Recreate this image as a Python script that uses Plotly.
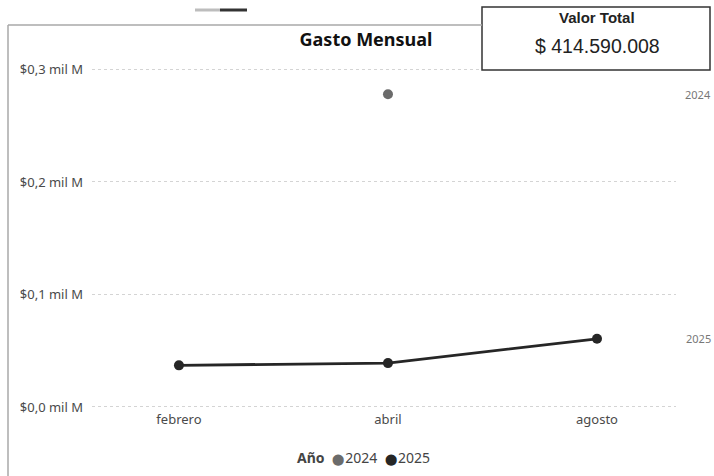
import plotly.graph_objects as go

# Gasto mensual por año (pesos)
meses = ["febrero", "abril", "agosto"]
meses_2024 = ["abril"]
gasto_2024 = [278_000_000]
meses_2025 = ["febrero", "abril", "agosto"]
gasto_2025 = [37_000_000, 39_000_000, 60_590_008]

valor_total = 414_590_008
y_ticks = [0, 100_000_000, 200_000_000, 300_000_000]
y_ticktext = ["$0,0 mil M", "$0,1 mil M", "$0,2 mil M", "$0,3 mil M"]

W, H = 714, 476
L, R, T, B = 92, 676, 60, 410   # plot area in pixels

_C24 = "#6b6b6b"
_C25 = "#262626"
_TICK = "#4a4a4a"
_GRID = "#d4d4d4"
_FRAME = "#a8a8a8"
_FONT = "Noto Sans, Open Sans, sans-serif"


def px(x):
    return (x - L) / (R - L)


def py(y):
    return (B - y) / (B - T)


fig = go.Figure()
fig.add_trace(go.Scatter(
    x=meses_2024, y=gasto_2024, mode="markers", name="2024",
    marker=dict(color=_C24, size=10),
))
fig.add_trace(go.Scatter(
    x=meses_2025, y=gasto_2025, mode="lines+markers", name="2025",
    line=dict(color=_C25, width=2.8),
    marker=dict(color=_C25, size=10),
))

# end-of-series labels at the right edge
for name, val in (("2024", gasto_2024[-1]), ("2025", gasto_2025[-1])):
    fig.add_annotation(x=px(713), xref="paper", xanchor="right", y=val, yref="y",
                       yanchor="middle", text=name, showarrow=False,
                       font=dict(size=11, color="#777777"))

# card "Valor Total"
fig.add_shape(type="rect", xref="paper", yref="paper",
              x0=px(482), x1=px(710), y0=py(7), y1=py(70),
              line=dict(color="#333333", width=1.5), fillcolor="white", layer="above")
fig.add_annotation(x=px(597), y=py(18), xref="paper", yref="paper",
                   xanchor="center", yanchor="middle",
                   text="<b>Valor Total</b>", showarrow=False,
                   font=dict(family="Liberation Sans, Arial", size=15, color="#222222"))
fig.add_annotation(x=px(597), y=py(46), xref="paper", yref="paper",
                   xanchor="center", yanchor="middle",
                   text="$ " + f"{valor_total:,}".replace(",", "."), showarrow=False,
                   font=dict(family="Liberation Sans, Arial", size=19.5, color="#222222"))

# legend line, drawn as text so the items sit as tight as in the original
dot = "<span style='color:%s;font-size:10.5px'>⬤</span>"
fig.add_annotation(x=px(363), y=py(457), xref="paper", yref="paper",
                   xanchor="center", yanchor="middle", showarrow=False,
                   text=("<b>Año</b>\u00a0\u00a0" + dot % _C24 + "\u200a2024\u00a0\u00a0"
                         + dot % _C25 + "\u200a2025"),
                   font=dict(size=14, color="#444444"))

# visual frame (left + top edge) and header grip
fig.add_shape(type="line", xref="paper", yref="paper",
              x0=px(8), x1=px(8), y0=py(25), y1=py(480),
              line=dict(color=_FRAME, width=1.5))
fig.add_shape(type="line", xref="paper", yref="paper",
              x0=px(8), x1=px(482), y0=py(25), y1=py(25),
              line=dict(color=_FRAME, width=1.5))
fig.add_shape(type="line", xref="paper", yref="paper",
              x0=px(195), x1=px(220), y0=py(10), y1=py(10),
              line=dict(color="#bdbdbd", width=3))
fig.add_shape(type="line", xref="paper", yref="paper",
              x0=px(220), x1=px(247), y0=py(10), y1=py(10),
              line=dict(color="#333333", width=3))

fig.update_layout(
    width=W, height=H,
    margin=dict(l=L, r=W - R, t=T, b=H - B),
    paper_bgcolor="white", plot_bgcolor="white",
    font=dict(family=_FONT, size=13, color=_TICK),
    title=dict(text="<b>Gasto Mensual</b>", x=366 / W, xanchor="center",
               y=1 - 40 / H, yanchor="middle", yref="container",
               font=dict(size=18, color="#111111")),
    xaxis=dict(type="category", categoryorder="array", categoryarray=meses,
               range=[-0.416, 2.378], showgrid=False, zeroline=False,
               showline=False, ticks="", tickfont=dict(size=13, color=_TICK)),
    yaxis=dict(range=[-2_700_000, 308_400_000], tickvals=y_ticks, ticktext=y_ticktext,
               showgrid=True, gridcolor=_GRID, griddash="dot", gridwidth=1,
               zeroline=False, showline=False, ticks="", ticklabelstandoff=8,
               tickfont=dict(size=13, color=_TICK)),
    showlegend=False,
)

# the page's default body margin would shift the figure by 8px
fig.write_html("out.html", config={"displayModeBar": False},
               post_script="document.body.style.margin='0';")
